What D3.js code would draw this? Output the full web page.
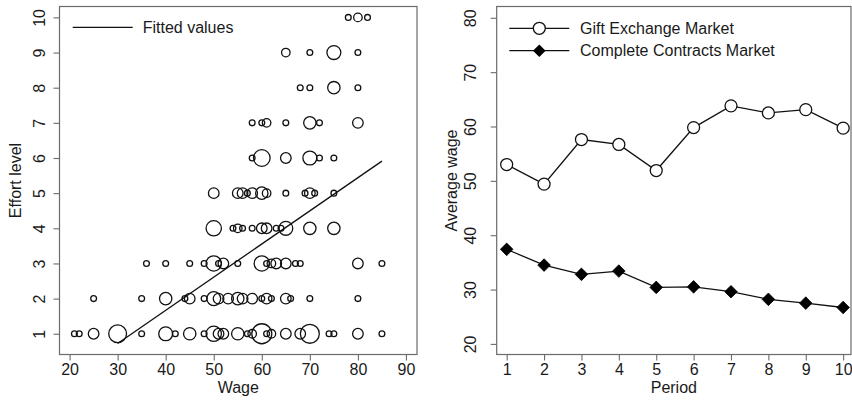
<!DOCTYPE html>
<html>
<head>
<meta charset="utf-8">
<script src="https://cdn.jsdelivr.net/npm/d3@7"></script>
<style>
  body { margin: 0; background: #fff; }
  svg { display: block; }
  text { font-family: "Liberation Sans", Arial, Helvetica, sans-serif; fill: #1a1a1a; }
</style>
</head>
<body>
<div id="chart"></div>
<script>
// ---- left panel data: wage offers per effort level, with count (bubble size)
var effortLevels = [1, 2, 3, 4, 5, 6, 7, 8, 9, 10];
var rowWages = [
  [21, 22, 25, 30, 35, 40, 42, 45, 48, 50, 51, 52, 55, 57, 58, 60, 61, 62, 65, 68, 70, 74, 75, 80, 85],
  [25, 35, 40, 44, 45, 48, 50, 51, 53, 55, 56, 58, 60, 61, 62, 65, 66, 70, 80],
  [36, 40, 45, 48, 50, 51, 52, 55, 60, 61, 62, 63, 65, 67, 68, 80, 85],
  [50, 54, 55, 56, 58, 60, 61, 63, 64, 65, 70, 75],
  [50, 55, 56, 57, 58, 60, 61, 65, 69, 70, 71, 75],
  [58, 60, 65, 70, 72, 75],
  [58, 60, 61, 65, 70, 72, 80],
  [68, 70, 75, 80],
  [65, 70, 75, 80],
  [78, 80, 82]
];
var rowCounts = [
  [1, 1, 3, 8, 1, 5, 1, 4, 1, 6, 3, 3, 4, 1, 2, 10, 1, 2, 3, 3, 9, 1, 1, 3, 1],
  [1, 1, 4, 1, 3, 1, 5, 3, 3, 4, 3, 3, 1, 3, 1, 3, 1, 1, 1],
  [1, 1, 1, 1, 6, 1, 3, 1, 6, 1, 2, 3, 3, 1, 1, 3, 1],
  [6, 1, 2, 1, 1, 3, 3, 1, 1, 5, 4, 4],
  [3, 3, 3, 1, 3, 4, 2, 1, 1, 3, 1, 1],
  [1, 7, 3, 5, 1, 1],
  [1, 1, 2, 1, 4, 1, 3],
  [1, 1, 4, 1],
  [2, 1, 5, 1],
  [1, 2, 1]
];
// fitted line: effort = fitIntercept + fitSlope * wage, drawn over fitRange
var fitIntercept = -2.104;
var fitSlope = 0.0943;
var fitRange = [30, 85];

var wageTicks = [20, 30, 40, 50, 60, 70, 80, 90];
var effortTicks = [1, 2, 3, 4, 5, 6, 7, 8, 9, 10];

// ---- right panel data
var periods = [1, 2, 3, 4, 5, 6, 7, 8, 9, 10];
var giftWage = [53.0, 49.4, 57.6, 56.7, 51.9, 59.8, 63.8, 62.5, 63.1, 59.7];
var completeWage = [37.4, 34.5, 32.8, 33.4, 30.4, 30.5, 29.6, 28.2, 27.5, 26.7];
var avgTicks = [20, 30, 40, 50, 60, 70, 80];

var width = 852, height = 405;
var fontSize = 16;
var frameCol = "#6b6b6b";

var svg = d3.select("#chart").append("svg")
  .attr("width", width)
  .attr("height", height);

function styleAxis(g) {
  g.select(".domain").remove();
  g.attr("font-size", fontSize)
   .attr("font-family", "Liberation Sans, Arial, sans-serif");
  g.selectAll(".tick line").attr("stroke", frameCol).attr("stroke-width", 1.1);
  g.selectAll(".tick text").attr("fill", "#1a1a1a");
}

// rotated y labels like stata
function rotateYLabels(g, off) {
  g.selectAll(".tick text")
    .attr("x", 0).attr("dy", 0)
    .attr("text-anchor", "middle")
    .attr("transform", "translate(" + off + ",0) rotate(-90)");
}

/* ================= left panel ================= */
var L = { left: 59.5, right: 417, top: 6.5, bottom: 354.5 };
var xL = d3.scaleLinear().domain([17.9, 92.3]).range([L.left, L.right]);
var yL = d3.scaleLinear().domain([0.41, 10.31]).range([L.bottom, L.top]);
var rL = d3.scaleSqrt().domain([1, 10]).range([2.9, 10]);

var left = svg.append("g");

left.append("g")
  .attr("transform", "translate(0," + L.bottom + ")")
  .call(d3.axisBottom(xL).tickValues(wageTicks).tickSize(6).tickPadding(3))
  .call(styleAxis);

left.append("g")
  .attr("transform", "translate(" + L.left + ",0)")
  .call(d3.axisLeft(yL).tickValues(effortTicks).tickSize(6))
  .call(styleAxis)
  .call(function(g) { rotateYLabels(g, -14.5); });

var pts = [];
effortLevels.forEach(function(e, i) {
  rowWages[i].forEach(function(w, j) {
    pts.push({ wage: w, effort: e, n: rowCounts[i][j] });
  });
});

left.append("g").selectAll("circle")
  .data(pts)
  .enter().append("circle")
  .attr("cx", function(d) { return xL(d.wage); })
  .attr("cy", function(d) { return yL(d.effort); })
  .attr("r", function(d) { return rL(d.n); })
  .attr("fill", "none")
  .attr("stroke", "#111")
  .attr("stroke-width", 1.3);

var fitLine = d3.line()
  .x(function(d) { return xL(d); })
  .y(function(d) { return yL(fitIntercept + fitSlope * d); });

left.append("path")
  .datum(fitRange)
  .attr("d", fitLine)
  .attr("fill", "none")
  .attr("stroke", "#111")
  .attr("stroke-width", 1.3);

left.append("rect")
  .attr("x", L.left).attr("y", L.top)
  .attr("width", L.right - L.left).attr("height", L.bottom - L.top)
  .attr("fill", "none").attr("stroke", frameCol).attr("stroke-width", 1.2);

// legend
left.append("line")
  .attr("x1", 72.7).attr("x2", 132.7).attr("y1", 27.3).attr("y2", 27.3)
  .attr("stroke", "#111").attr("stroke-width", 1.3);
left.append("text")
  .attr("x", 142.7).attr("y", 33)
  .attr("font-size", fontSize)
  .text("Fitted values");

left.append("text")
  .attr("x", (L.left + L.right) / 2).attr("y", 393)
  .attr("text-anchor", "middle").attr("font-size", fontSize)
  .text("Wage");
left.append("text")
  .attr("transform", "translate(21," + (L.top + L.bottom) / 2 + ") rotate(-90)")
  .attr("text-anchor", "middle").attr("font-size", fontSize)
  .text("Effort level");

/* ================= right panel ================= */
var R = { left: 496.7, right: 851, top: 6.5, bottom: 354.5 };
var xR = d3.scaleLinear().domain([0.733, 10.21]).range([R.left, R.right]);
var yR = d3.scaleLinear().domain([18.05, 82.08]).range([R.bottom, R.top]);

var right = svg.append("g");

right.append("g")
  .attr("transform", "translate(0," + R.bottom + ")")
  .call(d3.axisBottom(xR).tickValues(periods).tickSize(6).tickPadding(3))
  .call(styleAxis);

right.append("g")
  .attr("transform", "translate(" + R.left + ",0)")
  .call(d3.axisLeft(yR).tickValues(avgTicks).tickSize(6))
  .call(styleAxis)
  .call(function(g) { rotateYLabels(g, -21.2); });

var line = d3.line()
  .x(function(d, i) { return xR(periods[i]); })
  .y(function(d) { return yR(d); });

right.append("path").datum(completeWage)
  .attr("d", line).attr("fill", "none")
  .attr("stroke", "#111").attr("stroke-width", 1.3);
right.append("path").datum(giftWage)
  .attr("d", line).attr("fill", "none")
  .attr("stroke", "#111").attr("stroke-width", 1.3);

function diamondPath(s) {
  return "M0," + (-s) + "L" + s + ",0L0," + s + "L" + (-s) + ",0Z";
}

right.append("g").selectAll("path")
  .data(completeWage)
  .enter().append("path")
  .attr("transform", function(d, i) { return "translate(" + xR(periods[i]) + "," + yR(d) + ")"; })
  .attr("d", diamondPath(6.3))
  .attr("fill", "#000")
  .attr("stroke", "#000").attr("stroke-width", 0.8);

right.append("g").selectAll("circle")
  .data(giftWage)
  .enter().append("circle")
  .attr("cx", function(d, i) { return xR(periods[i]); })
  .attr("cy", function(d) { return yR(d); })
  .attr("r", 6)
  .attr("fill", "#fff")
  .attr("stroke", "#111").attr("stroke-width", 1.3);

right.append("rect")
  .attr("x", R.left).attr("y", R.top)
  .attr("width", R.right - R.left).attr("height", R.bottom - R.top)
  .attr("fill", "none").attr("stroke", frameCol).attr("stroke-width", 1.2);

// legend
var legendRows = [
  { label: "Gift Exchange Market", y: 28.3, type: "circle" },
  { label: "Complete Contracts Market", y: 50.7, type: "diamond" }
];
legendRows.forEach(function(lr) {
  right.append("line")
    .attr("x1", 509.3).attr("x2", 569.3).attr("y1", lr.y).attr("y2", lr.y)
    .attr("stroke", "#111").attr("stroke-width", 1.3);
  if (lr.type == "circle") {
    right.append("circle").attr("cx", 539.3).attr("cy", lr.y).attr("r", 6)
      .attr("fill", "#fff").attr("stroke", "#111").attr("stroke-width", 1.3);
  } else {
    right.append("path").attr("transform", "translate(539.3," + lr.y + ")")
      .attr("d", diamondPath(6.3)).attr("fill", "#000");
  }
  right.append("text")
    .attr("x", 580).attr("y", lr.y + 5.5)
    .attr("font-size", fontSize)
    .text(lr.label);
});

right.append("text")
  .attr("x", (R.left + R.right) / 2).attr("y", 393)
  .attr("text-anchor", "middle").attr("font-size", fontSize)
  .text("Period");
right.append("text")
  .attr("transform", "translate(457," + (R.top + R.bottom) / 2 + ") rotate(-90)")
  .attr("text-anchor", "middle").attr("font-size", fontSize)
  .text("Average wage");
</script>
</body>
</html>
